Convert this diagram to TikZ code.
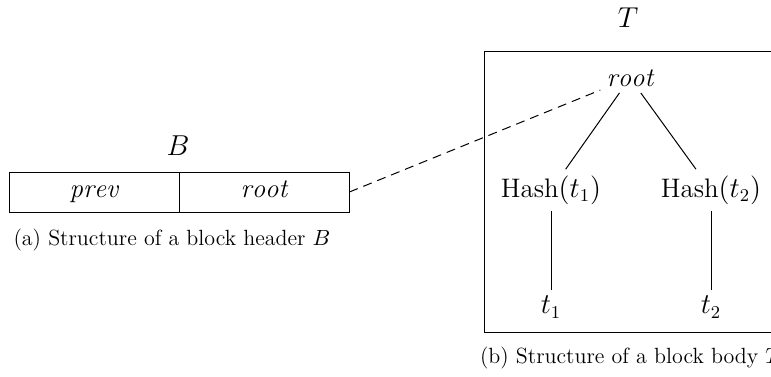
\documentclass[tikz,border=0pt]{standalone}
\usepackage{fontspec}
\begin{document}
\begin{tikzpicture}[x=0.5pt,y=-0.5pt,
  every node/.style={font=\fontsize{13.4}{15}\selectfont},
  field/.style={draw, minimum width=85pt, minimum height=20pt, inner sep=0pt,
    text height=1.5ex, text depth=0.25ex, anchor=center},
  capstyle/.style={font=\rmfamily\fontsize{11}{14}\selectfont},
  tree/.style={inner sep=3pt},
  link/.style={line width=0.5pt},
  ref/.style={line width=0.5pt, dash pattern=on 4.5pt off 3pt}]
\useasboundingbox (0,0) rectangle (771,376);
\clip (0,0) rectangle (771,376);

% block header
\node (blabel) at (178,146) {$B$};
\node[field] (prev)  at (94,192)  {$\mathit{prev}$};
\node[field] (hroot) at (264,192) {$\mathit{root}$};
\node[capstyle] (capa) at (172,240) {(a) Structure of a block header $B$};

% block body
\node (tlabel) at (628,18) {$T$};
\draw[link] (484,51) rectangle (800,332);
\node[tree] (root) at (630,78) {$\mathit{root}$};
\node[tree] (h1) at (551,190) {$\mathrm{Hash}(t_1)$};
\node[tree] (h2) at (711,190) {$\mathrm{Hash}(t_2)$};
\node[tree] (t1) at (551,307) {$t_1$};
\node[tree] (t2) at (711,307) {$t_2$};
\node[capstyle, anchor=west] (capb) at (473,358) {(b) Structure of a block body $T$};

\draw[link] (root) -- (h1);
\draw[link] (root) -- (h2);
\draw[link] (h1) -- (t1);
\draw[link] (h2) -- (t2);

% header root points to the tree root
\draw[ref] (hroot.east) -- (root);
\end{tikzpicture}
\end{document}
